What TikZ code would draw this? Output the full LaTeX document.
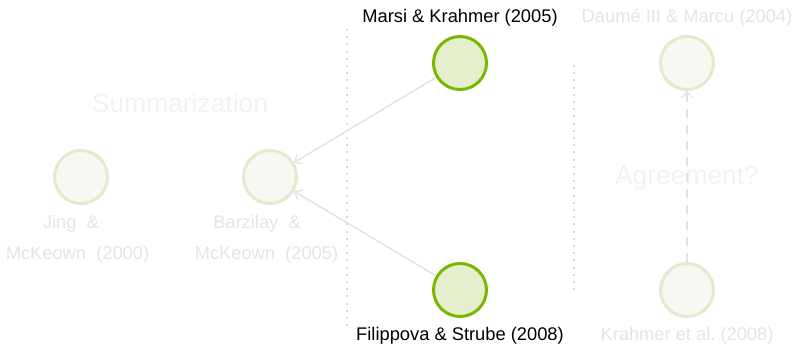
\documentclass[tikz,border=0pt]{standalone}
\usepackage{fontspec}
\setmainfont{Liberation Sans}
\usetikzlibrary{arrows.meta}
\frenchspacing
\definecolor{hilite}{HTML}{7AB800}
\definecolor{hilitefill}{HTML}{E4F0CD}
\definecolor{fadeline}{HTML}{E2EAD0}
\definecolor{fadefill}{HTML}{F6F8F1}
\definecolor{fadetext}{HTML}{E4E4E4}
\definecolor{bigtext}{HTML}{F2F2F2}
\definecolor{linkgray}{HTML}{E2E2E2}
\definecolor{sepgray}{HTML}{D8D8D8}
\tikzset{
  paper/.style={circle, minimum size=53pt, inner sep=0pt, line width=3pt},
  active/.style={paper, draw=hilite, fill=hilitefill},
  faded/.style={paper, draw=fadeline, fill=fadefill},
  blabel/.style={anchor=base, font=\fontsize{18.3}{20}\selectfont, text=black, inner sep=0pt},
  flabel/.style={anchor=base, font=\fontsize{18.3}{20}\selectfont, text=fadetext, inner sep=0pt},
  topic/.style={anchor=base, font=\fontsize{26.4}{28}\selectfont, text=bigtext, inner sep=0pt},
  link/.style={draw=linkgray, line width=1.5pt, -{Straight Barb[length=6pt, width=11pt, line width=1.3pt]}},
  guess/.style={link, line width=2pt, dash pattern=on 9pt off 7pt},
  divider/.style={draw=sepgray, line width=2pt, dash pattern=on 2pt off 5.2pt}
}
\begin{document}
\begin{tikzpicture}[x=1pt, y=-1pt]
  \useasboundingbox (0,0) rectangle (795,345);

  % topic headings
  \node[topic] (summ) at (180,112) {Summarization};
  \node[topic] (agree) at (687,184) {Agreement?};

  % separators
  \coordinate (sepAtop) at (347,29);
  \coordinate (sepAbot) at (347,328);
  \coordinate (sepBtop) at (574,65);
  \coordinate (sepBbot) at (574,290);
  \draw[divider] (sepAtop) -- (sepAbot);
  \draw[divider] (sepBtop) -- (sepBbot);

  % papers
  \node[faded] (jing) at (81,177) {};
  \node[faded] (barz) at (270,177) {};
  \node[active] (marsi) at (460,63) {};
  \node[active] (filip) at (460,290) {};
  \node[faded] (daume) at (687,63) {};
  \node[faded] (krahm) at (687,290) {};

  % paper labels
  \node[flabel] (jingA) at (71,228) {Jing\ \ \&};
  \node[flabel] (jingB) at (77.5,259) {McKeown\ \ (2000)};
  \node[flabel] (barzA) at (257,228) {Barzilay\ \ \&};
  \node[flabel] (barzB) at (266.5,259) {McKeown\ \ (2005)};
  \node[blabel] (marsiL) at (460,23) {Marsi \& Krahmer (2005)};
  \node[blabel] (filipL) at (460,340) {Filippova \& Strube (2008)};
  \node[flabel] (daumeL) at (687,23) {Daumé III \& Marcu (2004)};
  \node[flabel] (krahmL) at (687,340) {Krahmer et al. (2008)};

  % connections
  \draw[link] (marsi) -- (barz);
  \draw[link] (filip) -- (barz);
  \draw[guess] (krahm) -- (daume);
\end{tikzpicture}
\end{document}
